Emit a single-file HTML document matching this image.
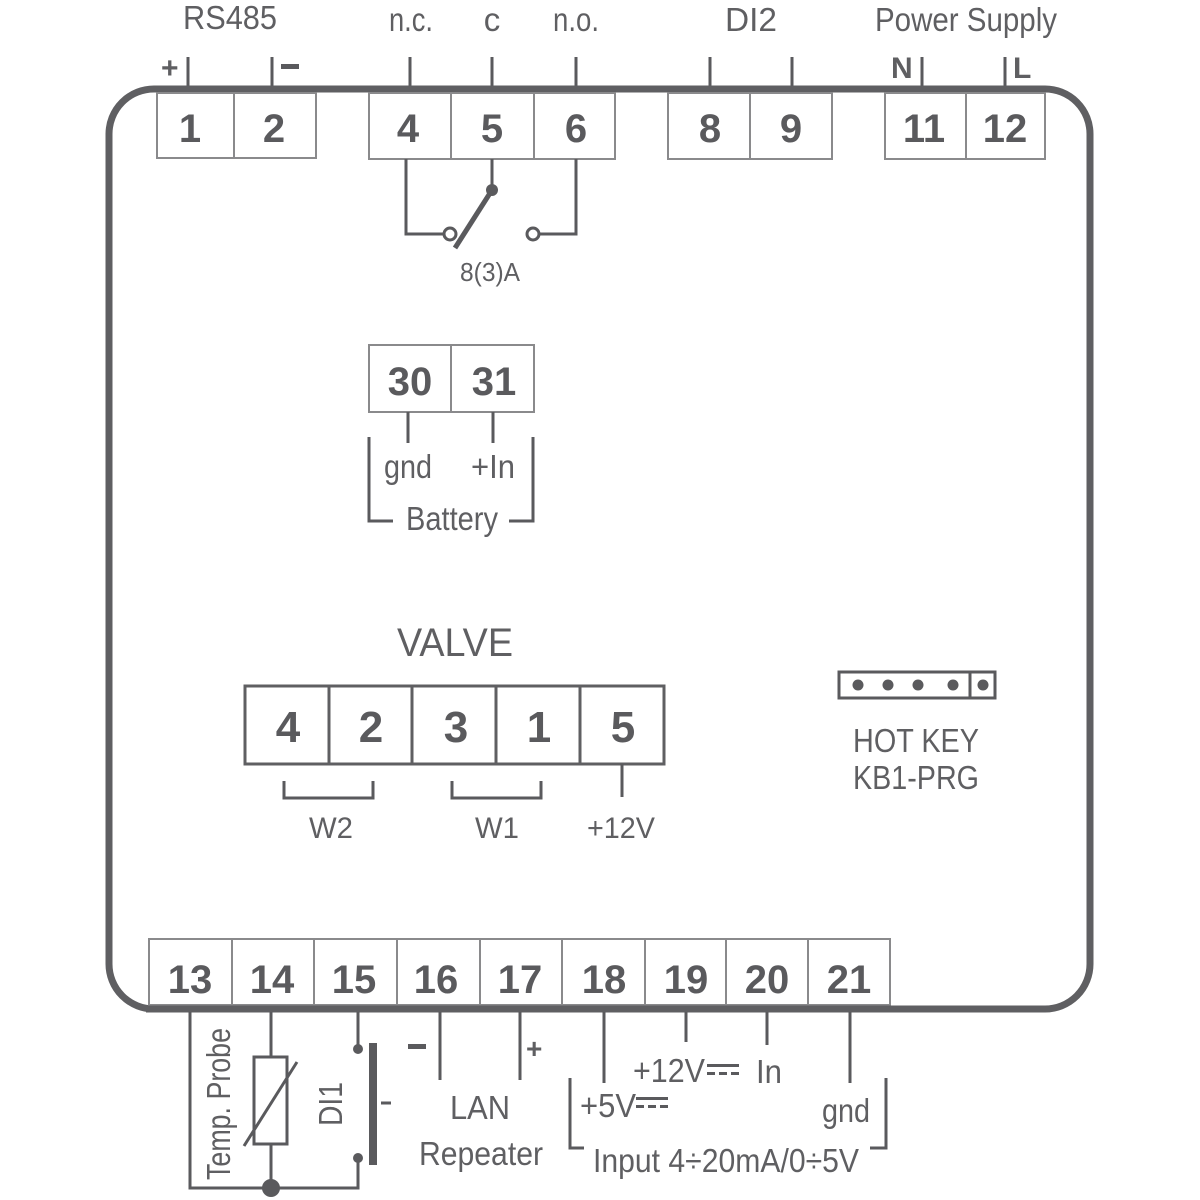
<!DOCTYPE html>
<html><head><meta charset="utf-8"><style>
html,body{margin:0;padding:0;background:#fff;width:1200px;height:1200px;overflow:hidden}
svg{display:block}
text{font-family:"Liberation Sans Narrow","Liberation Sans",sans-serif;fill:#5f5f62}
.n{font-family:"Liberation Sans",sans-serif;font-weight:bold;font-size:40px;text-anchor:middle;fill:#5a5a5d}
.l{font-size:33px;text-anchor:middle}
</style></head><body>
<svg width="1200" height="1200" viewBox="0 0 1200 1200">
<g fill="none" stroke="#5a5a5d" stroke-width="3">
<line x1="188" y1="57" x2="188" y2="90"/><line x1="272" y1="57" x2="272" y2="90"/>
<line x1="410" y1="57" x2="410" y2="90"/><line x1="492" y1="57" x2="492" y2="90"/><line x1="576" y1="57" x2="576" y2="90"/>
<line x1="710" y1="57" x2="710" y2="90"/><line x1="792" y1="57" x2="792" y2="90"/>
<line x1="922" y1="57" x2="922" y2="90"/><line x1="1005" y1="57" x2="1005" y2="90"/>
</g>
<rect x="109" y="89" width="981" height="920" rx="45" ry="45" fill="#fff" stroke="#5f5f62" stroke-width="7"/>
<g fill="#fff" stroke="#8a8a8c" stroke-width="2">
<rect x="157" y="93" width="77" height="65"/><rect x="234" y="93" width="82" height="65"/>
<rect x="369" y="93" width="82" height="66"/><rect x="451" y="93" width="83" height="66"/><rect x="534" y="93" width="81" height="66"/>
<rect x="668" y="93" width="82" height="66"/><rect x="750" y="93" width="82" height="66"/>
<rect x="885" y="93" width="81" height="66"/><rect x="966" y="93" width="79" height="66"/>
</g>
<text class="n" x="190" y="142">1</text><text class="n" x="274" y="142">2</text>
<text class="n" x="408" y="142">4</text><text class="n" x="492" y="142">5</text><text class="n" x="576" y="142">6</text>
<text class="n" x="710" y="142">8</text><text class="n" x="791" y="142">9</text>
<text class="n" x="924" y="142">11</text><text class="n" x="1005" y="142">12</text>
<text class="l" x="230" y="29" textLength="94" lengthAdjust="spacingAndGlyphs">RS485</text>
<text class="l" x="411" y="31" textLength="44" lengthAdjust="spacingAndGlyphs">n.c.</text>
<text class="l" x="492" y="31">c</text>
<text class="l" x="576" y="31" textLength="46" lengthAdjust="spacingAndGlyphs">n.o.</text>
<text class="l" x="751" y="31" textLength="52" lengthAdjust="spacingAndGlyphs">DI2</text>
<text class="l" x="966" y="31" textLength="182" lengthAdjust="spacingAndGlyphs">Power Supply</text>
<text x="161" y="78" style="font-family:'Liberation Sans',sans-serif;font-weight:bold;font-size:30px">+</text>
<rect x="281" y="64" width="18" height="5" fill="#5a5a5d"/>
<text x="891" y="78" style="font-family:'Liberation Sans',sans-serif;font-weight:bold;font-size:30px">N</text>
<text x="1013" y="78" style="font-family:'Liberation Sans',sans-serif;font-weight:bold;font-size:30px">L</text>
<g fill="none" stroke="#5a5a5d" stroke-width="3">
<polyline points="406,159 406,234 444,234"/>
<circle cx="450" cy="234" r="6" fill="#fff"/>
<line x1="492" y1="159" x2="492" y2="190"/>
<polyline points="540,234 576,234 576,159"/>
<circle cx="533" cy="234" r="6" fill="#fff"/>
<line x1="492" y1="190" x2="455" y2="248" stroke-width="5"/>
</g>
<circle cx="492" cy="190" r="6" fill="#5a5a5d"/>
<text x="490" y="281" style="font-size:26px;text-anchor:middle" textLength="60" lengthAdjust="spacingAndGlyphs">8(3)A</text>
<g fill="#fff" stroke="#8a8a8c" stroke-width="2">
<rect x="369" y="345" width="82" height="67"/><rect x="451" y="345" width="83" height="67"/>
</g>
<text class="n" x="410" y="395">30</text><text class="n" x="494" y="395">31</text>
<g fill="none" stroke="#5a5a5d" stroke-width="3">
<line x1="408" y1="412" x2="408" y2="443"/><line x1="493" y1="412" x2="493" y2="443"/>
<polyline points="369,437 369,521 393,521"/><polyline points="509,521 533,521 533,437"/>
</g>
<text class="l" x="408" y="478" textLength="48" lengthAdjust="spacingAndGlyphs">gnd</text>
<text class="l" x="493" y="478" textLength="44" lengthAdjust="spacingAndGlyphs">+In</text>
<text class="l" x="452" y="530" textLength="92" lengthAdjust="spacingAndGlyphs">Battery</text>
<text class="l" x="455" y="656" style="font-size:40px" textLength="116" lengthAdjust="spacingAndGlyphs">VALVE</text>
<g fill="#fff" stroke="#5f5f62" stroke-width="3">
<rect x="245" y="686" width="84" height="78"/><rect x="329" y="686" width="83" height="78"/><rect x="412" y="686" width="84" height="78"/><rect x="496" y="686" width="84" height="78"/><rect x="580" y="686" width="84" height="78"/>
</g>
<text class="n" x="288" y="742" style="font-size:44px">4</text><text class="n" x="371" y="742" style="font-size:44px">2</text>
<text class="n" x="456" y="742" style="font-size:44px">3</text><text class="n" x="539" y="742" style="font-size:44px">1</text>
<text class="n" x="623" y="742" style="font-size:44px">5</text>
<g fill="none" stroke="#5a5a5d" stroke-width="3">
<polyline points="284,781 284,798 373,798 373,781"/>
<polyline points="452,781 452,798 541,798 541,781"/>
<line x1="622" y1="764" x2="622" y2="797"/>
</g>
<text class="l" x="331" y="838" style="font-size:30px" textLength="44" lengthAdjust="spacingAndGlyphs">W2</text>
<text class="l" x="497" y="838" style="font-size:30px" textLength="44" lengthAdjust="spacingAndGlyphs">W1</text>
<text class="l" x="621" y="838" style="font-size:30px" textLength="68" lengthAdjust="spacingAndGlyphs">+12V</text>
<rect x="839" y="672" width="156" height="26" fill="#fff" stroke="#5a5a5d" stroke-width="3"/>
<line x1="970" y1="672" x2="970" y2="698" stroke="#5a5a5d" stroke-width="3"/>
<g fill="#5a5a5d"><circle cx="858" cy="685" r="5.5"/><circle cx="888" cy="685" r="5.5"/><circle cx="918" cy="685" r="5.5"/><circle cx="953" cy="685" r="5.5"/><circle cx="983" cy="685" r="5.5"/></g>
<text class="l" x="916" y="752" textLength="126" lengthAdjust="spacingAndGlyphs">HOT KEY</text>
<text class="l" x="916" y="789" textLength="126" lengthAdjust="spacingAndGlyphs">KB1-PRG</text>
<g fill="#fff" stroke="#8a8a8c" stroke-width="2">
<rect x="149" y="939" width="83" height="66"/><rect x="232" y="939" width="82" height="66"/><rect x="314" y="939" width="83" height="66"/><rect x="397" y="939" width="83" height="66"/><rect x="480" y="939" width="82" height="66"/><rect x="562" y="939" width="83" height="66"/><rect x="645" y="939" width="81" height="66"/><rect x="726" y="939" width="82" height="66"/><rect x="808" y="939" width="82" height="66"/>
</g>
<line x1="146" y1="1009" x2="894" y2="1009" stroke="#5f5f62" stroke-width="7"/>
<text class="n" x="190" y="993">13</text><text class="n" x="272" y="993">14</text><text class="n" x="354" y="993">15</text><text class="n" x="436" y="993">16</text><text class="n" x="520" y="993">17</text><text class="n" x="604" y="993">18</text><text class="n" x="686" y="993">19</text><text class="n" x="767" y="993">20</text><text class="n" x="849" y="993">21</text>
<g fill="none" stroke="#5a5a5d" stroke-width="3">
<polyline points="190,1012 190,1188 358,1188 358,1158"/>
<line x1="271" y1="1012" x2="271" y2="1188"/>
<rect x="254" y="1057" width="33" height="87" fill="#fff"/>
<line x1="244" y1="1146" x2="297" y2="1062"/>
<line x1="358" y1="1012" x2="358" y2="1049"/>
<line x1="440" y1="1012" x2="440" y2="1080"/>
<line x1="520" y1="1012" x2="520" y2="1080"/>
<line x1="604" y1="1012" x2="604" y2="1083"/>
<line x1="686" y1="1012" x2="686" y2="1042"/>
<line x1="767" y1="1012" x2="767" y2="1045"/>
<line x1="850" y1="1012" x2="850" y2="1083"/>
<polyline points="570,1078 570,1148 584,1148"/>
<polyline points="870,1148 886,1148 886,1078"/>
<line x1="381" y1="1103" x2="391" y2="1103"/>
</g>
<rect x="369" y="1043" width="8" height="122" fill="#5a5a5d"/>
<circle cx="358" cy="1049" r="5" fill="#5a5a5d"/><circle cx="358" cy="1158" r="5" fill="#5a5a5d"/>
<circle cx="271" cy="1188" r="9" fill="#5a5a5d"/>
<text class="l" transform="translate(230,1104) rotate(-90)" textLength="152" lengthAdjust="spacingAndGlyphs">Temp. Probe</text>
<text class="l" transform="translate(342,1104) rotate(-90)" textLength="44" lengthAdjust="spacingAndGlyphs">DI1</text>
<rect x="408" y="1044" width="18" height="5" fill="#5a5a5d"/>
<text x="526" y="1058" style="font-family:'Liberation Sans',sans-serif;font-weight:bold;font-size:28px">+</text>
<text class="l" x="480" y="1119" textLength="60" lengthAdjust="spacingAndGlyphs">LAN</text>
<text class="l" x="481" y="1165" textLength="124" lengthAdjust="spacingAndGlyphs">Repeater</text>
<text x="580" y="1117" style="font-size:33px" textLength="56" lengthAdjust="spacingAndGlyphs">+5V</text>
<g fill="#5a5a5d"><rect x="636" y="1097" width="32" height="3"/><rect x="636" y="1105" width="8" height="3"/><rect x="648" y="1105" width="8" height="3"/><rect x="660" y="1105" width="8" height="3"/></g>
<text x="633" y="1082" style="font-size:33px" textLength="72" lengthAdjust="spacingAndGlyphs">+12V</text>
<g fill="#5a5a5d"><rect x="707" y="1064" width="32" height="3"/><rect x="707" y="1072" width="8" height="3"/><rect x="719" y="1072" width="8" height="3"/><rect x="731" y="1072" width="8" height="3"/></g>
<text class="l" x="769" y="1083" textLength="26" lengthAdjust="spacingAndGlyphs">In</text>
<text class="l" x="846" y="1122" textLength="48" lengthAdjust="spacingAndGlyphs">gnd</text>
<text class="l" x="726" y="1172" textLength="266" lengthAdjust="spacingAndGlyphs">Input 4÷20mA/0÷5V</text>
</svg>
</body></html>
